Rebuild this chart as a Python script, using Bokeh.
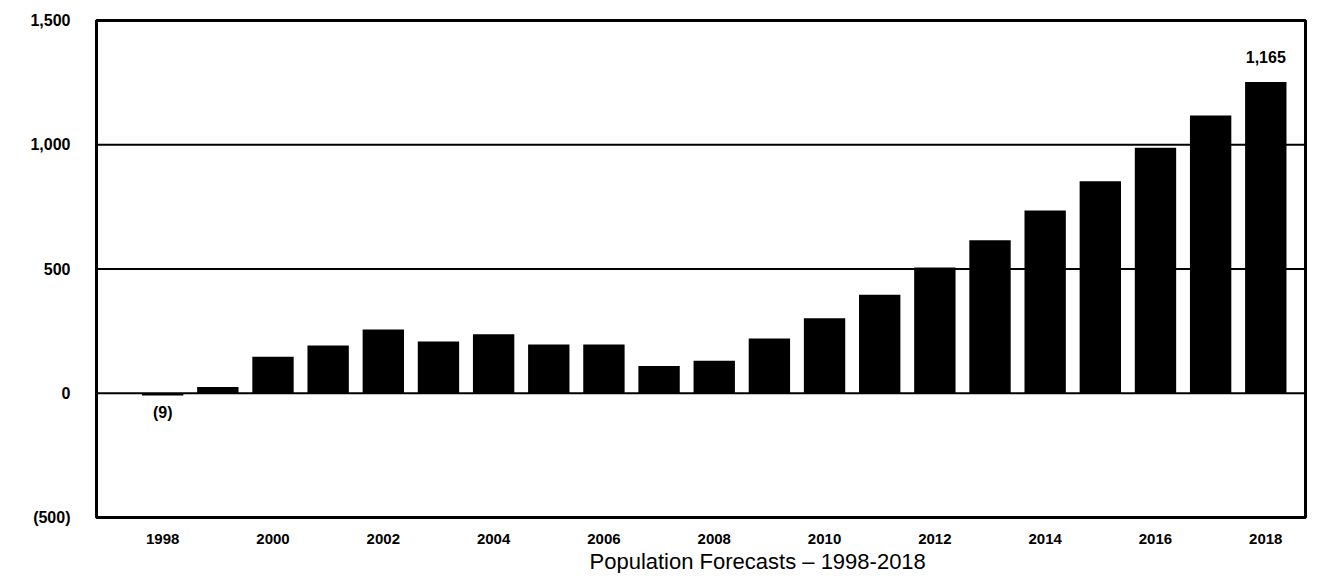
from bokeh.plotting import figure
from bokeh.models import FixedTicker, ColumnDataSource, Span, Title
from bokeh.embed import file_html
from bokeh.resources import INLINE

# ---- data ----
years = [1998, 1999, 2000, 2001, 2002, 2003, 2004, 2005, 2006, 2007, 2008,
         2009, 2010, 2011, 2012, 2013, 2014, 2015, 2016, 2017, 2018]
population_change = [-9, 25, 147, 192, 257, 208, 237, 196, 196, 110, 131,
                     220, 302, 396, 506, 616, 735, 853, 988, 1118, 1253]
x_tick_years = [1998, 2000, 2002, 2004, 2006, 2008, 2010, 2012, 2014, 2016, 2018]
y_ticks = [-500, 0, 500, 1000, 1500]
y_tick_labels = ["(500)", "0", "500", "1,000", "1,500"]
grid_levels = [0, 500, 1000]
annot_years = [1998, 2018]
annot_values = [-9, 1253]
annot_texts = ["(9)", "1,165"]
annot_offsets = [17, -25]
axis_title = "Population Forecasts – 1998-2018"

p = figure(width=1323, height=573, output_backend="svg", toolbar_location=None,
           x_range=(1996.8, 2018.72), y_range=(-500, 1500),
           min_border_left=96, min_border_right=18, min_border_top=20,
           min_border_bottom=40)

p.xgrid.grid_line_color = None
p.ygrid.grid_line_color = None
for g in grid_levels:
    p.add_layout(Span(location=g, dimension="width", line_color="black", line_width=2))

p.vbar(x=years, top=population_change, bottom=0, width=0.75,
       fill_color="black", line_color=None)

src = ColumnDataSource(dict(x=annot_years, y=annot_values, t=annot_texts, off=annot_offsets))
p.text(x="x", y="y", text="t", y_offset="off", source=src,
       text_align="center", text_baseline="middle",
       text_font_size="16px", text_font_style="bold", text_color="black",
       text_font={"value": "Liberation Sans"})

p.outline_line_color = "black"
p.outline_line_width = 3
p.outline_line_alpha = 1

p.xaxis.ticker = FixedTicker(ticks=x_tick_years)
p.xaxis.major_label_overrides = {y: str(y) for y in x_tick_years}
p.yaxis.ticker = FixedTicker(ticks=y_ticks)
p.yaxis.major_label_overrides = {t: l for t, l in zip(y_ticks, y_tick_labels)}

for ax in (p.xaxis, p.yaxis):
    ax.axis_line_color = "black"
    ax.axis_line_width = 3
    ax.major_tick_line_color = None
    ax.minor_tick_line_color = None
    ax.major_label_text_font = "Liberation Sans"
    ax.major_label_text_font_style = "bold"
    ax.major_label_text_color = "black"

p.xaxis.major_label_text_font_size = "15px"
p.yaxis.major_label_text_font_size = "16px"
p.yaxis.major_label_standoff = 20
p.xaxis.major_label_standoff = 10

t = Title(text=axis_title, align="left", offset=493,
          text_font="Liberation Sans", text_font_style="normal",
          text_font_size="22px", text_color="black", standoff=0)
p.add_layout(t, "below")

open("out.html", "w").write(file_html(p, INLINE))
